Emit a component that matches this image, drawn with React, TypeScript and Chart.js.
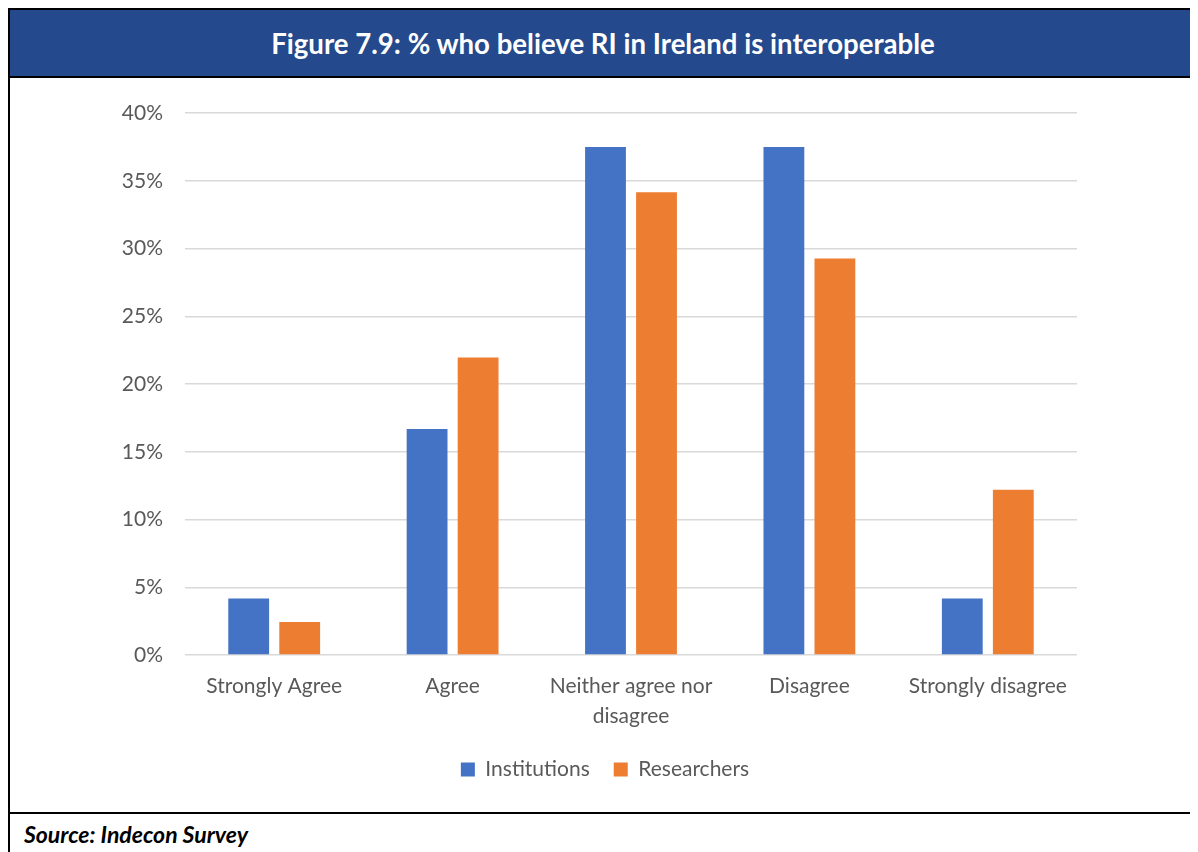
import React, { useEffect, useRef } from "react";
import { Chart, registerables } from "chart.js";

Chart.register(...registerables);

const categories: (string | string[])[] = [
  "Strongly Agree",
  "Agree",
  ["Neither agree nor", "disagree"],
  "Disagree",
  "Strongly disagree",
];
const institutions = [4.17, 16.67, 37.5, 37.5, 4.17];
const researchers = [2.44, 21.95, 34.15, 29.27, 12.2];
const yTicks = [0, 5, 10, 15, 20, 25, 30, 35, 40];

const FONT = "Lato, 'Open Sans', sans-serif";
const GREY = "#595959";

// Centre the legend across the full canvas rather than the padded layout box.
const centreLegend = {
  id: "centreLegend",
  afterLayout(chart: any) {
    if (chart.legend) {
      chart.legend.left = 0;
      chart.legend.right = chart.width;
    }
  },
};

export default function App() {
  const canvasRef = useRef<HTMLCanvasElement | null>(null);

  useEffect(() => {
    if (!canvasRef.current) return;
    const chart = new Chart(canvasRef.current, {
      type: "bar",
      data: {
        labels: categories,
        datasets: [
          {
            label: "Institutions",
            data: institutions,
            backgroundColor: "#4472c4",
            categoryPercentage: 0.572,
            barPercentage: 0.8,
          },
          {
            label: "Researchers",
            data: researchers,
            backgroundColor: "#ed7d31",
            categoryPercentage: 0.572,
            barPercentage: 0.8,
          },
        ],
      },
      plugins: [centreLegend],
      options: {
        animation: false,
        responsive: false,
        maintainAspectRatio: false,
        layout: { padding: { top: 35, right: 123, bottom: 22, left: 0 } },
        plugins: {
          tooltip: { enabled: false },
          legend: {
            position: "bottom",
            labels: {
              color: GREY,
              font: { family: FONT, size: 21 },
              boxWidth: 14,
              boxHeight: 14,
              padding: 24,
            },
          },
        },
        scales: {
          x: {
            grid: { display: false, drawTicks: false },
            border: { display: false },
            ticks: {
              color: GREY,
              font: { family: FONT, size: 21, lineHeight: "30px" as any },
              padding: 16,
              maxRotation: 0,
              autoSkip: false,
            },
            afterFit: (s: any) => {
              s.height = 80;
            },
          },
          y: {
            min: 0,
            max: 40,
            afterBuildTicks: (s: any) => {
              s.ticks = yTicks.map((v) => ({ value: v }));
            },
            grid: { color: "#d9d9d9", lineWidth: 1.5, drawTicks: false },
            border: { display: false },
            ticks: {
              color: GREY,
              font: { family: FONT, size: 21 },
              padding: 22,
              callback: (v: any) => `${v}%`,
            },
            afterFit: (s: any) => {
              s.width = 175;
            },
          },
        },
      },
    });
    return () => chart.destroy();
  }, []);

  return (
    <div style={{ width: 1190, height: 844, overflow: "hidden", position: "relative" }}>
      <div
        style={{
          width: 1190,
          borderLeft: "2px solid #000",
          borderRight: "2px solid #000",
          borderTop: "2px solid #000",
          boxSizing: "content-box",
          fontFamily: FONT,
        }}
      >
        <div
          style={{
            height: 66,
            background: "#24498c",
            borderBottom: "2px solid #000",
            color: "#fff",
            fontWeight: 700,
            fontSize: 27.6,
            display: "flex",
            alignItems: "center",
            justifyContent: "center",
            paddingRight: 4,
          }}
        >
          Figure 7.9: % who believe RI in Ireland is interoperable
        </div>
        <div style={{ height: 734, position: "relative" }}>
          <canvas ref={canvasRef} width={1190} height={734} style={{ display: "block" }} />
        </div>
        <div
          style={{
            borderTop: "2px solid #000",
            height: 40,
            display: "flex",
            alignItems: "center",
            paddingLeft: 14,
            fontWeight: 700,
            fontStyle: "italic",
            fontSize: 23,
            color: "#000",
          }}
        >
          Source: Indecon Survey
        </div>
      </div>
    </div>
  );
}
